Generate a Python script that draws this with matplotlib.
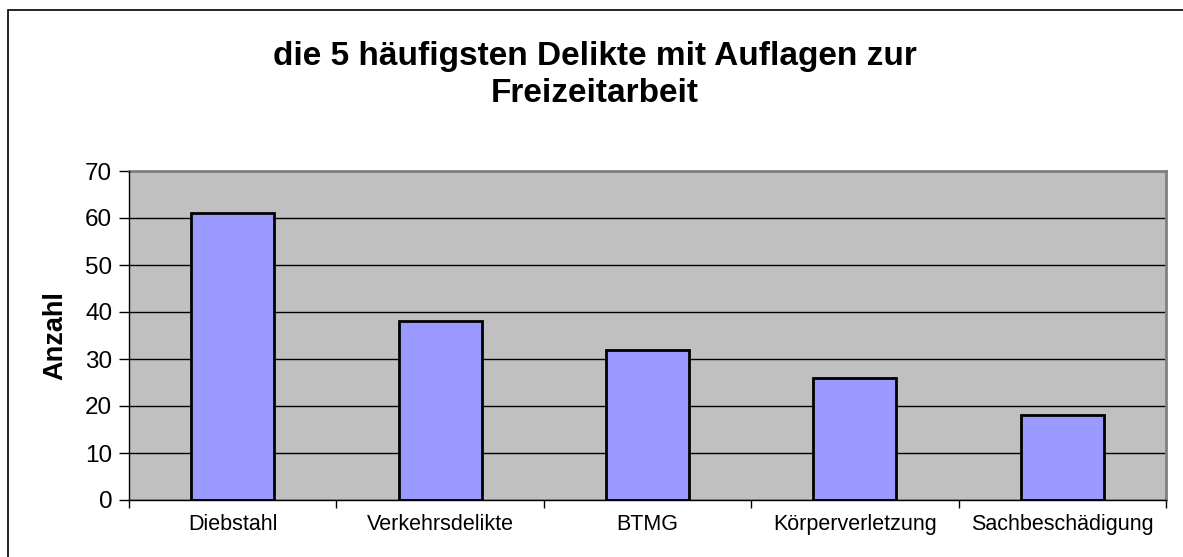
import matplotlib.pyplot as plt
from matplotlib.patches import Rectangle

# --- Daten ---
delikte = ["Diebstahl", "Verkehrsdelikte", "BTMG", "Körperverletzung", "Sachbeschädigung"]
anzahl = [61, 38, 32, 26, 18]
y_ticks = [0, 10, 20, 30, 40, 50, 60, 70]
titel_zeilen = ["die 5 häufigsten Delikte mit Auflagen zur", "Freizeitarbeit"]

plt.rcParams['font.family'] = ['Liberation Sans', 'DejaVu Sans']

W, H = 1183, 557
fig = plt.figure(figsize=(W / 100, H / 100), dpi=100)

# Plotbereich in Pixeln
left, right, top, bottom = 129, 1166, 171, 500
ax = fig.add_axes([left / W, 1 - bottom / H, (right - left) / W, (bottom - top) / H])
ax.set_facecolor('#C0C0C0')

x = list(range(len(delikte)))
ax.bar(x, anzahl, width=0.4, color='#9999FF', edgecolor='black', linewidth=2, zorder=3)

ax.set_xlim(-0.5, len(delikte) - 0.5)
ax.set_ylim(0, 70)
ax.set_yticks(y_ticks)
ax.tick_params(axis='y', labelsize=17.5, length=7, width=1, direction='out', pad=5)
ax.grid(axis='y', color='black', linewidth=1, zorder=1)

# Kategorien-Beschriftung mittig, Ticks an den Grenzen
ax.set_xticks(x)
ax.set_xticklabels(delikte, fontsize=15.5)
ax.tick_params(axis='x', length=0, pad=10)
ax.set_xticks([i - 0.5 for i in range(len(delikte) + 1)], minor=True)
ax.tick_params(axis='x', which='minor', length=6, width=1, direction='out')

for side in ['top', 'right']:
    ax.spines[side].set_color('#808080')
    ax.spines[side].set_linewidth(2)
for side in ['left', 'bottom']:
    ax.spines[side].set_color('black')
    ax.spines[side].set_linewidth(1)
    ax.spines[side].set_zorder(4)

ax.set_ylabel("Anzahl", fontsize=19.5, fontweight='bold', labelpad=12)

# Titel: zwei Zeilen, Grundlinien bei ca. 65 und 102 px
for zeile, y_px in zip(titel_zeilen, [65, 102]):
    fig.text(595 / W, 1 - y_px / H, zeile, ha='center', va='baseline',
             fontsize=24, fontweight='bold')

# Rahmen um das Diagramm
fig.patches.append(Rectangle((8 / W, -0.05), 1.2, 1 - 10 / H + 0.05, transform=fig.transFigure,
                             fill=False, edgecolor='black', linewidth=1.2))

fig.savefig("out.png", dpi=100)
